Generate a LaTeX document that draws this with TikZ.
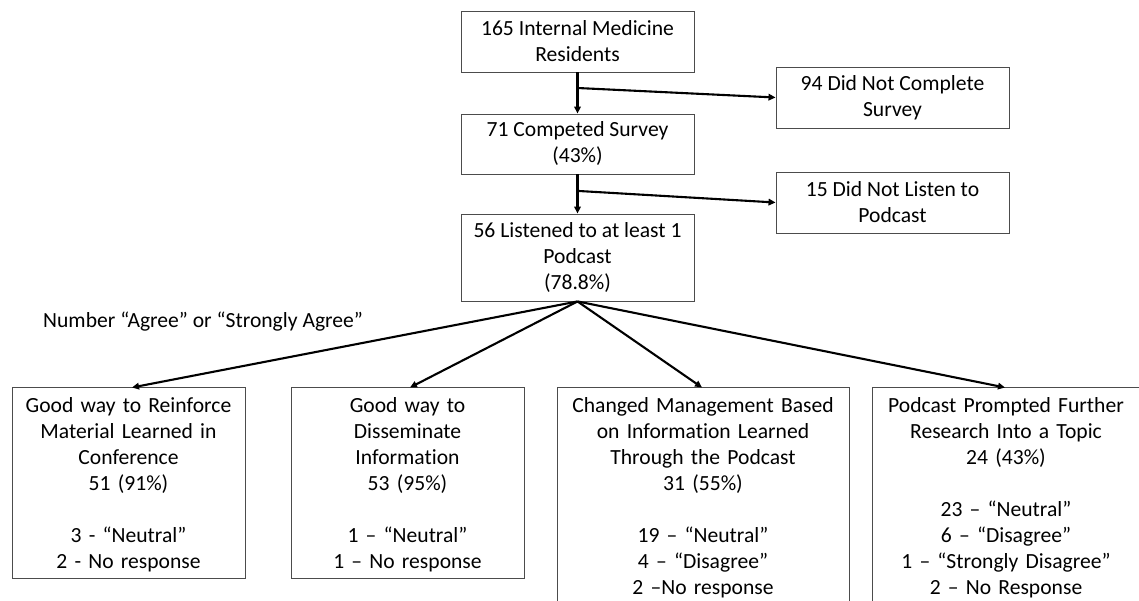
\documentclass[tikz,border=0pt]{standalone}
\usepackage{fontspec}
\setmainfont{Carlito}[RawFeature={-liga}]
\usetikzlibrary{arrows.meta}
\begin{document}
\begin{tikzpicture}[x=1pt,y=-1pt,
  every node/.style={font=\fontsize{21.6}{26}\selectfont, inner sep=0pt},
  topbox/.style={draw=black!70, line width=0.9pt, minimum width=233pt, align=center},
  lowbox/.style={draw=black!70, line width=0.9pt, anchor=north west},
  lowtext/.style={anchor=base, align=center, text width=#1},
  conn/.style={line width=2.1pt, -{Triangle[length=7pt,width=6.5pt]}}
]
\clip (0,0) rectangle (1139,601);
\fill[white] (0,0) rectangle (1139,601);

% top column
\node[topbox, minimum height=61pt] (A) at (577.5,41.5) {165 Internal Medicine\\Residents};
\node[topbox, minimum height=60pt] (B) at (577.5,144) {71 Competed Survey\\(43\%)};
\node[topbox, minimum height=87pt] (C) at (577.5,257.5) {56 Listened to at least 1\\Podcast\\(78.8\%)};
\node[topbox, minimum height=61pt] (D) at (892.5,97.5) {94 Did Not Complete\\Survey};
\node[topbox, minimum height=61pt] (E) at (892.5,202.5) {15 Did Not Listen to\\Podcast};

\coordinate (j1) at (577.5,88);
\coordinate (j2) at (579,191);

\draw[conn] (A.south) -- (B.north);
\draw[conn] (B.south) -- (C.north);
\draw[conn] (j1) -- (D.west);
\draw[conn] (j2) -- (E.west);

% label
\node[anchor=base west] (lab) at (43,327) {Number “Agree” or “Strongly Agree”};

% bottom boxes
\node[lowbox, minimum width=233pt, minimum height=191pt] (b1) at (12,387) {};
\node[lowbox, minimum width=233pt, minimum height=191pt] (b2) at (291,387) {};
\node[lowbox, minimum width=292pt, minimum height=240pt] (b3) at (557,387) {};
\node[lowbox, minimum width=268pt, minimum height=240pt] (b4) at (872,387) {};

\node[lowtext=233pt] (t1) at (128.5,412) {Good way to Reinforce\\Material Learned in\\Conference\\51 (91\%)\\[26pt]3 - “Neutral”\\2 - No response};
\node[lowtext=233pt] (t2) at (407.5,412) {Good way to\\Disseminate\\Information\\53 (95\%)\\[26pt]1 – “Neutral”\\1 – No response};
\node[lowtext=292pt] (t3) at (703,412) {Changed Management Based\\on Information Learned\\Through the Podcast\\31 (55\%)\\[26pt]19 – “Neutral”\\4 – “Disagree”\\2 –No response};
\node[lowtext=268pt] (t4) at (1006,412) {Podcast Prompted Further\\Research Into a Topic\\24 (43\%)\\[26pt]23 – “Neutral”\\6 – “Disagree”\\1 – “Strongly Disagree”\\2 – No Response};

\draw[conn] (C.south) -- (132,387.5);
\draw[conn] (C.south) -- (410,387.5);
\draw[conn] (C.south) -- (702,387.5);
\draw[conn] (C.south) -- (1005,387.5);
\end{tikzpicture}
\end{document}
